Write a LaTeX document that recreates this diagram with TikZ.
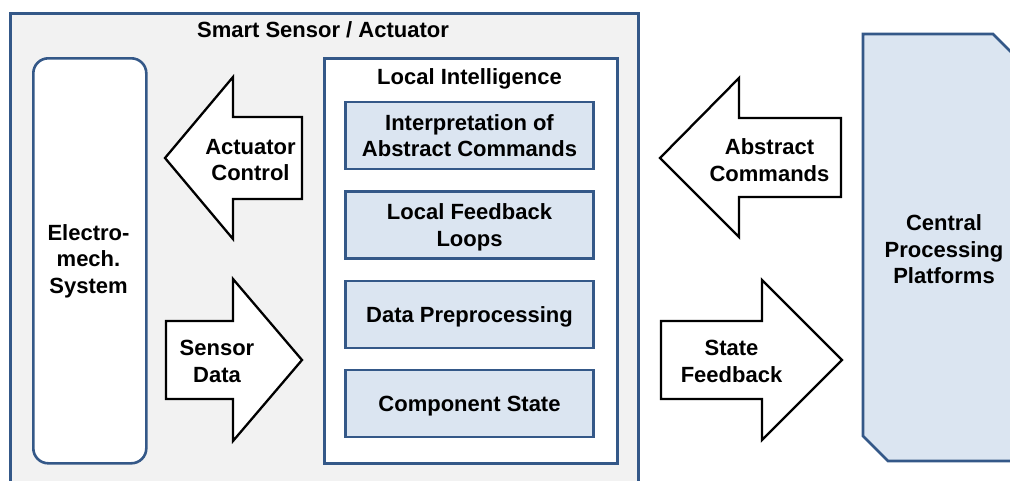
\documentclass[tikz,border=0pt]{standalone}
\usepackage{fontspec}
\setmainfont{Liberation Sans}
\definecolor{bord}{RGB}{52,88,136}
\definecolor{lblue}{RGB}{219,229,241}
\definecolor{outerfill}{RGB}{242,242,242}
\begin{document}
\begin{tikzpicture}[x=1pt,y=-1pt,
  lbl/.style={font=\bfseries\fontsize{22}{26.5}\selectfont, align=center, text=black, inner sep=0pt},
  frame/.style={draw=bord, line width=2.6pt},
  blk/.style={draw=bord, fill=lblue, line width=2.3pt, minimum width=248pt, minimum height=67pt, inner sep=0pt, lbl, text depth=0pt},
  barrow/.style={draw=black, fill=white, line width=2.3pt, line join=miter}]
\useasboundingbox (0,0) rectangle (1010,480);
\clip (0,0) rectangle (1010,480);
\fill[white] (0,0) rectangle (1010,480);
% outer box
\node[frame, fill=outerfill, anchor=north west, minimum width=628pt, minimum height=490pt, inner sep=0pt] (outer) at (9,12) {};
\node[lbl] (title) at (323,30) {Smart Sensor / Actuator};
% electro-mechanical system
\node[frame, fill=white, rounded corners=15pt, anchor=north west, minimum width=113pt, minimum height=405pt, inner sep=0pt] (em) at (32,57) {};
\node[lbl] (emt) at (88.5,261) {Electro-\\mech.\\System};
% local intelligence
\node[frame, fill=white, anchor=north west, minimum width=293pt, minimum height=405pt, inner sep=0pt] (li) at (323,57) {};
\node[lbl] (lit) at (469.5,78.5) {Local Intelligence};
\node[blk] (b1) at (469.5,135.5) {Interpretation of\\Abstract Commands};
\node[blk] (b2) at (469.5,225) {Local Feedback\\Loops};
\node[blk] (b3) at (469.5,314.5) {Data Preprocessing};
\node[blk] (b4) at (469.5,403.5) {Component State};
% block arrows
\draw[barrow] (165,158) -- (233,77) -- (233,117) -- (302,117) -- (302,199) -- (233,199) -- (233,239) -- cycle;
\node[lbl] (act) at (250.5,160) {Actuator\\Control};
\draw[barrow] (166,321) -- (233,321) -- (233,279) -- (302,360) -- (233,441) -- (233,399) -- (166,399) -- cycle;
\node[lbl] (sen) at (217,361.5) {Sensor\\Data};
\draw[barrow] (660,158) -- (739,78) -- (739,118) -- (841,118) -- (841,197) -- (739,197) -- (739,237) -- cycle;
\node[lbl] (abs) at (769.5,160) {Abstract\\Commands};
\draw[barrow] (661,321) -- (762,321) -- (762,280) -- (842,360) -- (762,440) -- (762,399) -- (661,399) -- cycle;
\node[lbl] (stf) at (731.5,361.5) {State\\Feedback};
% central processing platforms
\draw[frame, fill=lblue, line join=miter] (863,34) -- (993,34) -- (1030,71) -- (1030,461) -- (888,461) -- (863,436) -- cycle;
\node[lbl] (cpp) at (944,249.5) {Central\\Processing\\Platforms};
\end{tikzpicture}
\end{document}
